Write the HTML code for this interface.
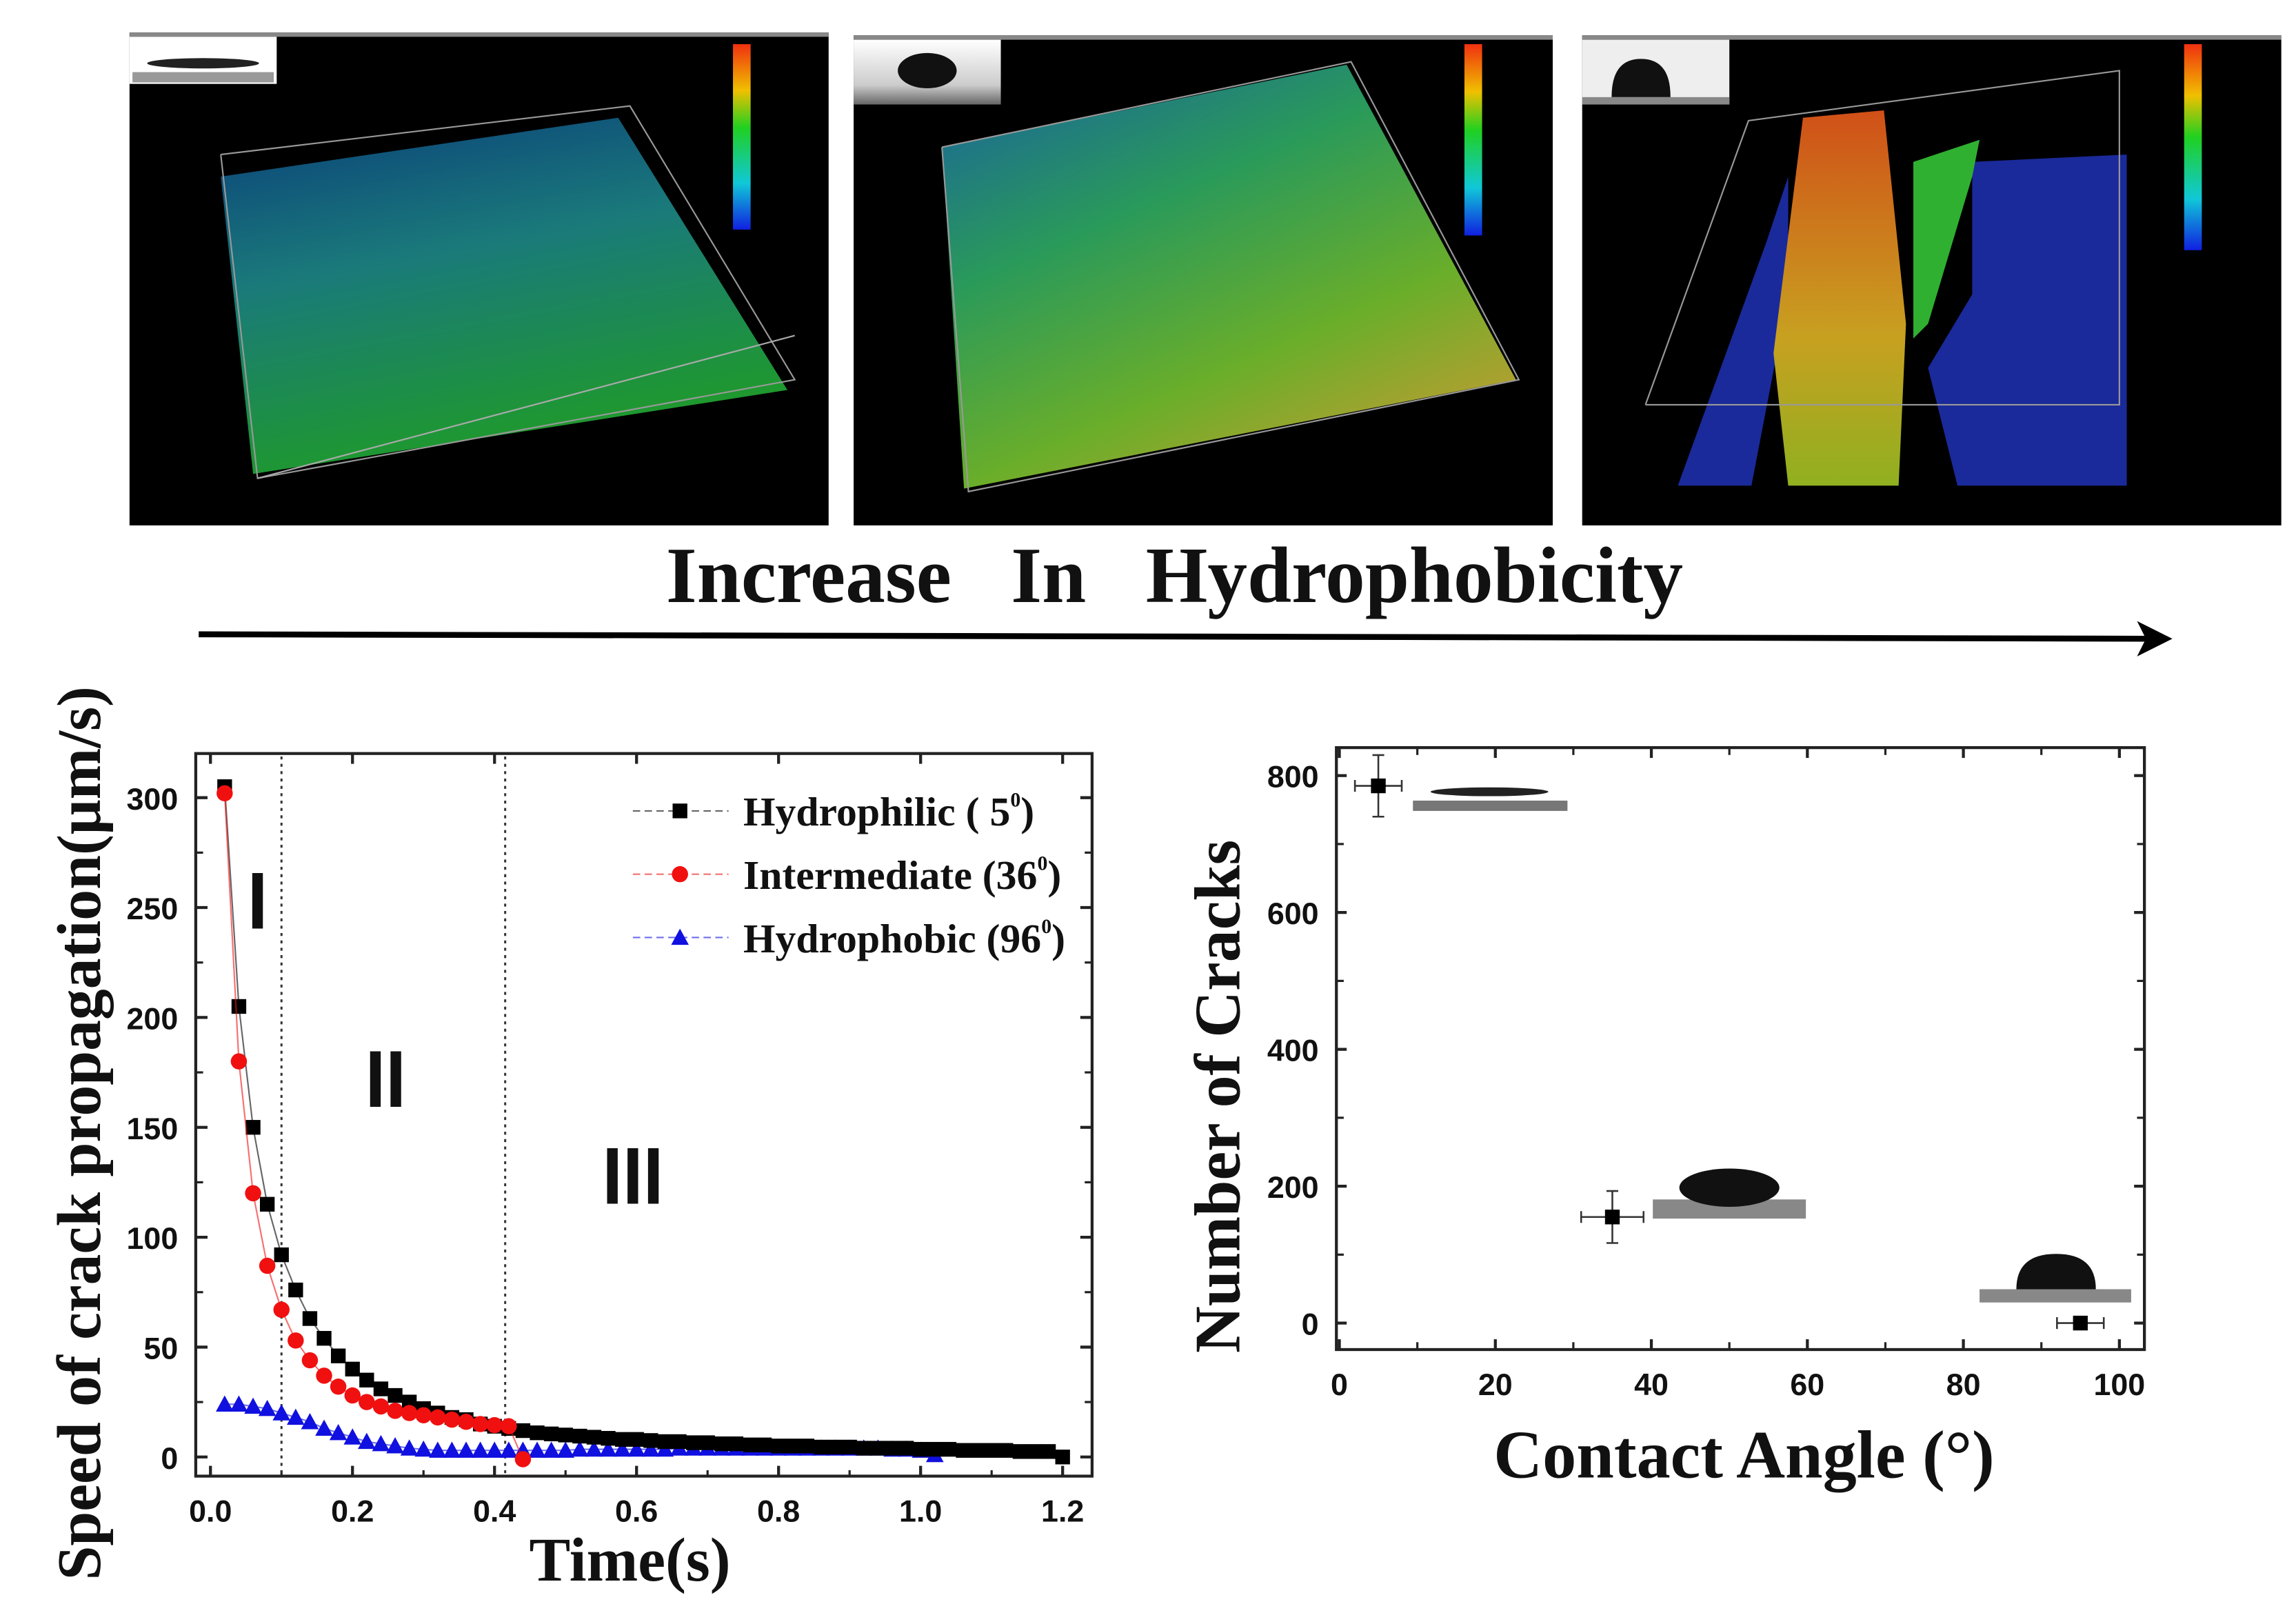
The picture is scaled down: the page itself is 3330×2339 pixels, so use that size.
<!DOCTYPE html>
<html><head><meta charset="utf-8"><style>
html,body{margin:0;padding:0;background:#fff;}
svg{display:block;}
.tk{font-family:"Liberation Sans",sans-serif;font-weight:bold;font-size:21px;fill:#111;}
.ser{font-family:"Liberation Serif",serif;font-weight:bold;fill:#111;}
</style></head><body>
<svg id="fig" width="3330" height="2339" viewBox="0 0 1560 1096" preserveAspectRatio="none" xmlns="http://www.w3.org/2000/svg">
<defs>
<linearGradient id="g1" x1="0" y1="0" x2="0.3" y2="1"><stop offset="0" stop-color="#0a3f7a"/><stop offset="0.45" stop-color="#1a7a7a"/><stop offset="1" stop-color="#1f9a2a"/></linearGradient>
<linearGradient id="g2" x1="0" y1="0" x2="0.6" y2="1"><stop offset="0" stop-color="#1860a0"/><stop offset="0.4" stop-color="#2a9a5a"/><stop offset="0.75" stop-color="#6aae2a"/><stop offset="1" stop-color="#b0a030"/></linearGradient>
<linearGradient id="cb1" x1="0" y1="0" x2="0" y2="1"><stop offset="0" stop-color="#f03010"/><stop offset="0.25" stop-color="#f0c000"/><stop offset="0.45" stop-color="#20d020"/><stop offset="0.75" stop-color="#10c8d8"/><stop offset="1" stop-color="#1020e0"/></linearGradient>
<linearGradient id="col" x1="0" y1="0" x2="0" y2="1"><stop offset="0" stop-color="#d05018"/><stop offset="0.6" stop-color="#c8a020"/><stop offset="1" stop-color="#90b020"/></linearGradient>
<linearGradient id="drop" x1="0" y1="0" x2="0" y2="1"><stop offset="0" stop-color="#fff"/><stop offset="0.7" stop-color="#ccc"/><stop offset="1" stop-color="#666"/></linearGradient>
</defs>

<g>
<rect x="88" y="22" width="475" height="335" fill="#000"/>
<rect x="88" y="22" width="475" height="3" fill="#888"/>
<rect x="88" y="25" width="100" height="32" fill="#fff"/>
<ellipse cx="138" cy="43" rx="38" ry="3.5" fill="#222"/>
<rect x="90" y="49" width="96" height="7" fill="#999"/>
<polygon points="150,120 420,80 535,265 172,322" fill="url(#g1)"/>
<polyline points="150,105 428,72 540,258 175,325 150,105" fill="none" stroke="#999" stroke-width="1"/>
<line x1="175" y1="325" x2="540" y2="228" stroke="#aaa"/>
<rect x="498" y="30" width="12" height="126" fill="url(#cb1)"/>
</g>
<g>
<rect x="580" y="24" width="475" height="333" fill="#000"/>
<rect x="580" y="24" width="475" height="3" fill="#888"/>
<rect x="580" y="27" width="100" height="44" fill="url(#drop)"/>
<ellipse cx="630" cy="48" rx="20" ry="12" fill="#111"/>
<polygon points="640,100 915,44 1030,258 655,332" fill="url(#g2)"/>
<polyline points="640,100 918,42 1032,258 658,334 640,100" fill="none" stroke="#999" stroke-width="1"/>
<rect x="995" y="30" width="12" height="130" fill="url(#cb1)"/>
</g>
<g>
<rect x="1075" y="24" width="475" height="333" fill="#000"/>
<rect x="1075" y="24" width="475" height="3" fill="#888"/>
<rect x="1075" y="27" width="100" height="44" fill="#eee"/>
<path d="M1095 66 Q1095 40 1115 40 Q1135 40 1135 66 Z" fill="#111"/>
<rect x="1075" y="66" width="100" height="5" fill="#888"/>
<polygon points="1215,120 1200,165 1140,330 1190,330 1215,200" fill="#1a2a9a"/>
<polygon points="1340,110 1445,105 1445,330 1330,330 1310,250 1340,200" fill="#1a2a9a"/>
<polygon points="1225,80 1280,75 1295,220 1290,330 1215,330 1205,240" fill="url(#col)"/>
<polygon points="1300,110 1345,95 1340,120 1310,220 1300,230" fill="#30b030"/>
<polyline points="1118,275 1188,82 1440,48 1440,275 1118,275" fill="none" stroke="#999" stroke-width="1"/>
<rect x="1484" y="30" width="12" height="140" fill="url(#cb1)"/>
</g>

<text class="ser" x="798" y="409" font-size="54" text-anchor="middle" xml:space="preserve">Increase   In   Hydrophobicity</text>
<g>
<line x1="135" y1="431" x2="1460" y2="434" stroke="#000" stroke-width="4"/>
<polygon points="1476,434 1452,422 1458,434 1452,446" fill="#000"/>
</g>

<g id="left"></g>
<g id="right"></g>
</svg>
<script>
const NS="http://www.w3.org/2000/svg";
function mk(p,t,a){const e=document.createElementNS(NS,t);for(const k in a)e.setAttribute(k,a[k]);p.appendChild(e);return e;}

const timeTicks=[0.0,0.2,0.4,0.6,0.8,1.0,1.2];
const speedTicks=[0,50,100,150,200,250,300];
const hydrophilicT=[0.02,0.04,0.06,0.08,0.10,0.12,0.14,0.16,0.18,0.20,0.22,0.24,0.26,0.28,0.30,0.32,0.34,0.36,0.38,0.40,0.42,0.44,0.46,0.48,0.50,0.52,0.54,0.56,0.58,0.60,0.62,0.64,0.66,0.68,0.70,0.72,0.74,0.76,0.78,0.80,0.82,0.84,0.86,0.88,0.90,0.92,0.94,0.96,0.98,1.00,1.02,1.04,1.06,1.08,1.10,1.12,1.14,1.16,1.18,1.20];
const hydrophilicV=[305,205,150,115,92,76,63,54,46,40,35,31,28,25,22,20,18,17,15,14,13,12,11,10.5,10,9.5,9,8.5,8,8,7.5,7,7,6.5,6.5,6,6,5.5,5.5,5,5,5,4.5,4.5,4.5,4,4,4,4,3.5,3.5,3.5,3,3,3,3,2.5,2.5,2.5,0];
const intermediateT=[0.02,0.04,0.06,0.08,0.10,0.12,0.14,0.16,0.18,0.20,0.22,0.24,0.26,0.28,0.30,0.32,0.34,0.36,0.38,0.40,0.42,0.44];
const intermediateV=[302,180,120,87,67,53,44,37,32,28,25,23,21,20,19,18,17,16,15,14.5,14,-1];
const hydrophobicT=[0.02,0.04,0.06,0.08,0.10,0.12,0.14,0.16,0.18,0.20,0.22,0.24,0.26,0.28,0.30,0.32,0.34,0.36,0.38,0.40,0.42,0.44,0.46,0.48,0.50,0.52,0.54,0.56,0.58,0.60,0.62,0.64,0.66,0.68,0.70,0.72,0.74,0.76,0.78,0.80,0.82,0.84,0.86,0.88,0.90,0.92,0.94,0.96,0.98,1.00,1.02];
const hydrophobicV=[24,24,23,22,20,18,16,13,11,9,7,6,5,4,3.5,3,3,3,3,3,3,3,3,3,3,3.5,3.5,3.5,3.5,3.5,3.5,3.5,4,4,4,4,4,4,4,4,4,4,4,4,4,4,4,3.5,3.5,3,1];
const regionBounds=[0.1,0.415];

const L=document.getElementById('left');
const lx=v=>143+v*(722-143)/1.2, ly=v=>990-v*(990-542)/300;
mk(L,'rect',{x:133,y:512,width:609,height:491,fill:'none',stroke:'#222','stroke-width':2});
for(const t of timeTicks){
  mk(L,'line',{x1:lx(t),y1:1003,x2:lx(t),y2:996,stroke:'#222','stroke-width':2});
  mk(L,'line',{x1:lx(t),y1:512,x2:lx(t),y2:519,stroke:'#222','stroke-width':2});
  const e=mk(L,'text',{x:lx(t),y:1034,class:'tk','text-anchor':'middle'});e.textContent=t.toFixed(1);
  
  
}
for(let i=0;i<timeTicks.length-1;i++){const m=(timeTicks[i]+timeTicks[i+1])/2;
  mk(L,'line',{x1:lx(m),y1:1003,x2:lx(m),y2:999,stroke:'#222','stroke-width':1.5});}
for(const s of speedTicks){
  mk(L,'line',{x1:133,y1:ly(s),x2:141,y2:ly(s),stroke:'#222','stroke-width':2});
  mk(L,'line',{x1:742,y1:ly(s),x2:734,y2:ly(s),stroke:'#222','stroke-width':2});
  const e=mk(L,'text',{x:121,y:ly(s)+8,class:'tk','text-anchor':'end'});e.textContent=s;
  
  
}
for(let i=0;i<speedTicks.length-1;i++){const m=(speedTicks[i]+speedTicks[i+1])/2;
  mk(L,'line',{x1:133,y1:ly(m),x2:138,y2:ly(m),stroke:'#222','stroke-width':1.5});
  mk(L,'line',{x1:742,y1:ly(m),x2:737,y2:ly(m),stroke:'#222','stroke-width':1.5});}
for(const b of regionBounds){const e=mk(L,'line',{x1:lx(b),y1:514,x2:lx(b),y2:1001,stroke:'#333','stroke-width':1.4,'stroke-dasharray':'2,3'});
  
  }
function series(T,V,color,shape,name){
  const g=mk(L,'g',{});
  
  
  mk(g,'polyline',{points:T.map((t,i)=>lx(t)+','+ly(V[i])).join(' '),fill:'none',stroke:color,'stroke-width':1,opacity:0.6});
  T.forEach((t,i)=>{const x=lx(t),y=ly(V[i]);let e;
    if(shape==='sq')e=mk(g,'rect',{x:x-5,y:y-5,width:10,height:10,fill:color});
    else if(shape==='c')e=mk(g,'circle',{cx:x,cy:y,r:5.5,fill:color});
    else e=mk(g,'polygon',{points:`${x},${y-6} ${x-6},${y+5} ${x+6},${y+5}`,fill:color});
    
    });
}
series(hydrophobicT,hydrophobicV,'#1010e0','t','series-hydrophobic');
series(hydrophilicT,hydrophilicV,'#000','sq','series-hydrophilic');
series(intermediateT,intermediateV,'#f01010','c','series-intermediate');
const legendNames=['Hydrophilic ( 5','Intermediate (36','Hydrophobic (96'];
const legendColors=['#000','#f01010','#1010e0'];const legendShapes=['sq','c','t'];
legendNames.forEach((n,i)=>{const y=551+i*43;const g=mk(L,'g',{});
  
  
  mk(g,'line',{x1:430,y1:y,x2:495,y2:y,stroke:legendColors[i],'stroke-width':1,'stroke-dasharray':'5,3',opacity:0.6});
  const x=462;
  if(legendShapes[i]==='sq')mk(g,'rect',{x:x-5,y:y-5,width:10,height:10,fill:legendColors[i]});
  else if(legendShapes[i]==='c')mk(g,'circle',{cx:x,cy:y,r:5.5,fill:legendColors[i]});
  else mk(g,'polygon',{points:`${x},${y-6} ${x-6},${y+5} ${x+6},${y+5}`,fill:legendColors[i]});
  const t=mk(g,'text',{x:505,y:y+10,class:'ser','font-size':28});
  t.innerHTML=n+'<tspan dy="-13" font-size="14">0</tspan><tspan dy="13">)</tspan>';
});
[['I',175,631],['II',262,752],['III',430,818]].forEach(r=>{const e=mk(L,'text',{x:0,y:0,'font-family':'Liberation Sans,sans-serif','font-weight':'bold','font-size':50,'text-anchor':'middle',fill:'#111',transform:`translate(${r[1]},${r[2]}) scale(1,1.1)`});e.textContent=r[0];
  
  });
let e=mk(L,'text',{x:0,y:0,class:'ser','font-size':42,'text-anchor':'middle',transform:'translate(68,770) rotate(-90)'});e.textContent='Speed of crack propagation(μm/s)';


e=mk(L,'text',{x:428,y:1074,class:'ser','font-size':42,'text-anchor':'middle'});e.textContent='Time(s)';



const angleTicks=[0,20,40,60,80,100];
const crackTicks=[0,200,400,600,800];
const contactAngle=[5,35,95];
const crackCount=[785,155,0];
const angleErr=[3,4,3];
const crackErr=[45,38,0];
const R=document.getElementById('right');
const rx=v=>910+v*(1440-910)/100, ry=v=>899-v*(899-527)/800;
mk(R,'rect',{x:908,y:508,width:549,height:409,fill:'none',stroke:'#222','stroke-width':2});
for(const a of angleTicks){mk(R,'line',{x1:rx(a),y1:917,x2:rx(a),y2:910,stroke:'#222','stroke-width':2});
  mk(R,'line',{x1:rx(a),y1:508,x2:rx(a),y2:515,stroke:'#222','stroke-width':2});
  const t=mk(R,'text',{x:rx(a),y:948,class:'tk','text-anchor':'middle'});t.textContent=a;
  
  }
for(let i=0;i<angleTicks.length-1;i++){const m=(angleTicks[i]+angleTicks[i+1])/2;
  mk(R,'line',{x1:rx(m),y1:917,x2:rx(m),y2:912,stroke:'#222','stroke-width':1.5});
  mk(R,'line',{x1:rx(m),y1:508,x2:rx(m),y2:513,stroke:'#222','stroke-width':1.5});}
for(const c of crackTicks){mk(R,'line',{x1:908,y1:ry(c),x2:915,y2:ry(c),stroke:'#222','stroke-width':2});
  mk(R,'line',{x1:1457,y1:ry(c),x2:1450,y2:ry(c),stroke:'#222','stroke-width':2});
  const t=mk(R,'text',{x:896,y:ry(c)+8,class:'tk','text-anchor':'end'});t.textContent=c;
  
  }
for(let i=0;i<crackTicks.length-1;i++){const m=(crackTicks[i]+crackTicks[i+1])/2;
  mk(R,'line',{x1:908,y1:ry(m),x2:913,y2:ry(m),stroke:'#222','stroke-width':1.5});
  mk(R,'line',{x1:1457,y1:ry(m),x2:1452,y2:ry(m),stroke:'#222','stroke-width':1.5});}
mk(R,'rect',{x:960,y:544,width:105,height:7,fill:'#777'});
mk(R,'ellipse',{cx:1012,cy:538,rx:40,ry:3,fill:'#222'});
mk(R,'rect',{x:1123,y:815,width:104,height:13,fill:'#888'});
mk(R,'ellipse',{cx:1175,cy:807,rx:34,ry:13,fill:'#111'});
mk(R,'rect',{x:1345,y:876,width:103,height:9,fill:'#888'});
mk(R,'path',{d:'M1370 876 Q1370 852 1397 852 Q1424 852 1424 876 Z',fill:'#111'});
contactAngle.forEach((a,i)=>{const g=mk(R,'g',{});
  
  
  const x=rx(a),y=ry(crackCount[i]);
  const x0=rx(a-angleErr[i]),x1=rx(a+angleErr[i]);
  mk(g,'line',{x1:x0,y1:y,x2:x1,y2:y,stroke:'#333','stroke-width':1.2});
  mk(g,'line',{x1:x0,y1:y-4,x2:x0,y2:y+4,stroke:'#333','stroke-width':1.2});
  mk(g,'line',{x1:x1,y1:y-4,x2:x1,y2:y+4,stroke:'#333','stroke-width':1.2});
  if(crackErr[i]>0){const y0=ry(crackCount[i]-crackErr[i]),y1=ry(crackCount[i]+crackErr[i]);
    mk(g,'line',{x1:x,y1:y0,x2:x,y2:y1,stroke:'#333','stroke-width':1.2});
    mk(g,'line',{x1:x-4,y1:y0,x2:x+4,y2:y0,stroke:'#333','stroke-width':1.2});
    mk(g,'line',{x1:x-4,y1:y1,x2:x+4,y2:y1,stroke:'#333','stroke-width':1.2});}
  mk(g,'rect',{x:x-5,y:y-5,width:10,height:10,fill:'#000'});
});
e=mk(R,'text',{x:0,y:0,class:'ser','font-size':44,'text-anchor':'middle',transform:'translate(842,745) rotate(-90)'});e.textContent='Number of Cracks';


e=mk(R,'text',{x:1185,y:1004,class:'ser','font-size':46,'text-anchor':'middle'});e.textContent='Contact Angle (°)';


</script>
</body></html>
